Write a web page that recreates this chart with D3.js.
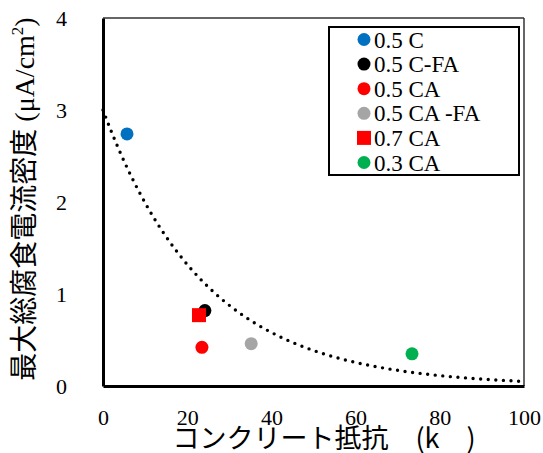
<!DOCTYPE html>
<html>
<head>
<meta charset="utf-8">
<script src="https://cdn.jsdelivr.net/npm/d3@7"></script>
<style>
  html, body { margin: 0; padding: 0; background: #fff; }
  svg { display: block; }
</style>
</head>
<body>
<svg id="chart" width="543" height="453"></svg>
<script>
// Series: name, concrete resistance (kΩ·cm), max corrosion current density (μA/cm²)
const seriesNames = ["0.5 C", "0.5 C-FA", "0.5 CA", "0.5 CA -FA", "0.7 CA", "0.3 CA"];
const resistance  = [5.7, 24.2, 23.5, 35.2, 22.8, 73.4];
const currentDens = [2.74, 0.82, 0.42, 0.46, 0.77, 0.35];
const colors      = ["#0070C0", "#000000", "#FF0000", "#A5A5A5", "#FF0000", "#00B050"];
const shapes      = ["circle", "circle", "circle", "circle", "square", "circle"];

// Exponential trend line y = A * exp(-B * x)
const trendA = 3.0;
const trendB = 0.041;

const xTicks = [0, 20, 40, 60, 80, 100];
const yTicks = [0, 1, 2, 3, 4];

const svg = d3.select("#chart");
const plot = { left: 103, right: 524, top: 18, bottom: 386 };

const x = d3.scaleLinear().domain([0, 100]).range([plot.left, plot.right]);
const y = d3.scaleLinear().domain([0, 4]).range([plot.bottom, plot.top]);

const serif = "'Liberation Serif', 'Times New Roman', serif";
const cjk = "'Noto Sans CJK JP', 'Noto Sans', sans-serif";

// Frame: thin top/right, heavy left/bottom axes
svg.append("line").attr("x1", plot.left).attr("x2", plot.right)
  .attr("y1", plot.top).attr("y2", plot.top)
  .attr("stroke", "#333").attr("stroke-width", 1.5);
svg.append("line").attr("x1", plot.right).attr("x2", plot.right)
  .attr("y1", plot.top).attr("y2", plot.bottom)
  .attr("stroke", "#333").attr("stroke-width", 1.5);

// Axes (ticks hidden, labels only)
const xAxis = d3.axisBottom(x).tickValues(xTicks).tickFormat(d3.format("d"))
  .tickSize(0).tickPadding(23);
const yAxis = d3.axisLeft(y).tickValues(yTicks).tickFormat(d3.format("d"))
  .tickSize(0).tickPadding(36);

const gx = svg.append("g").attr("transform", `translate(0,${plot.bottom})`).call(xAxis);
gx.select(".domain").attr("stroke", "#000").attr("stroke-width", 3);
gx.selectAll(".tick text").attr("font-family", serif).attr("font-size", 22).attr("fill", "#000");

const gy = svg.append("g").attr("transform", `translate(${plot.left},0)`).call(yAxis);
gy.select(".domain").attr("stroke", "#000").attr("stroke-width", 3);
gy.selectAll(".tick text").attr("font-family", serif).attr("font-size", 22).attr("fill", "#000")
  .attr("dy", "0.36em");

// Trend line
const trendXs = d3.range(0, 100.01, 0.5);
const line = d3.line().x(d => x(d)).y(d => y(trendA * Math.exp(-trendB * d)));
svg.append("path")
  .datum(trendXs)
  .attr("d", line)
  .attr("fill", "none")
  .attr("stroke", "#000")
  .attr("stroke-width", 3.4)
  .attr("stroke-linecap", "round")
  .attr("stroke-dasharray", "0,7.6");

// Data markers
const data = seriesNames.map((n, i) => ({
  name: n, x: resistance[i], y: currentDens[i], color: colors[i], shape: shapes[i]
}));

function drawMarker(g, d, cx, cy) {
  if (d.shape === "square") {
    g.append("rect").attr("x", cx - 7).attr("y", cy - 7)
      .attr("width", 14).attr("height", 14).attr("fill", d.color);
  } else {
    g.append("circle").attr("cx", cx).attr("cy", cy).attr("r", 6.5).attr("fill", d.color);
  }
}

const marks = svg.append("g");
data.forEach(d => drawMarker(marks, d, x(d.x), y(d.y)));

// Legend
const legend = svg.append("g");
legend.append("rect")
  .attr("x", 329).attr("y", 27).attr("width", 190).attr("height", 148)
  .attr("fill", "#fff").attr("stroke", "#000").attr("stroke-width", 2);
data.forEach((d, i) => {
  const ly = 39.5 + i * 24.6;
  drawMarker(legend, d, 364, ly);
  legend.append("text")
    .attr("x", 374).attr("y", ly).attr("dy", "0.35em")
    .attr("font-family", serif).attr("font-size", 23).attr("fill", "#000")
    .text(d.name);
});

// Axis titles
svg.append("text")
  .attr("x", 324).attr("y", 448)
  .attr("text-anchor", "middle")
  .attr("font-family", cjk).attr("font-size", 27).attr("fill", "#000")
  .text("コンクリート抵抗　(k　)");

const yTitle = svg.append("text")
  .attr("transform", "translate(34,199) rotate(-90)")
  .attr("text-anchor", "middle")
  .attr("fill", "#000");
yTitle.append("tspan").attr("font-family", cjk).attr("font-size", 28).text("最大総腐食電流密度");
yTitle.append("tspan").attr("font-family", serif).attr("font-size", 28).text(" (μA/cm");
yTitle.append("tspan").attr("font-family", serif).attr("font-size", 17).attr("dy", -11).text("2");
yTitle.append("tspan").attr("font-family", serif).attr("font-size", 28).attr("dy", 11).text(")");
</script>
</body>
</html>
